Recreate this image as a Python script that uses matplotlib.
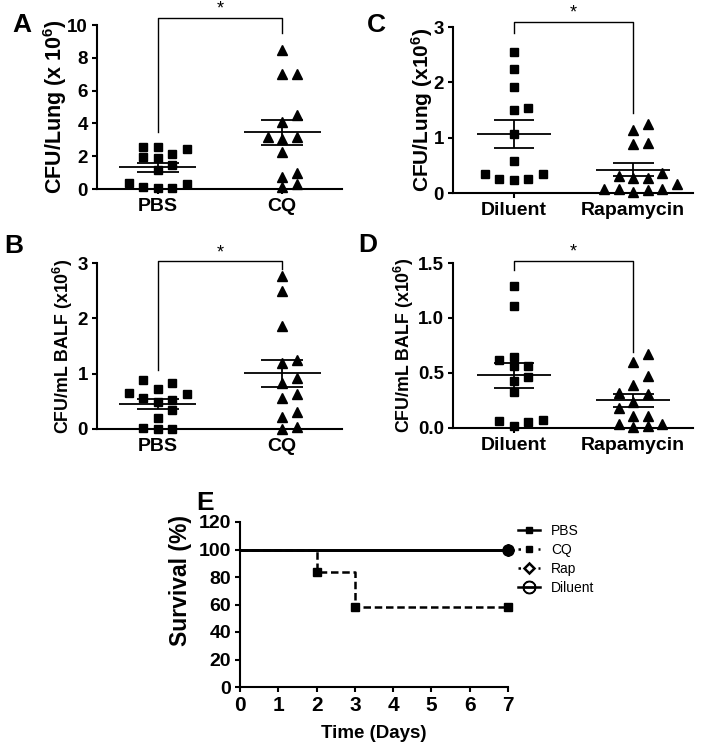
import numpy as np
import matplotlib
matplotlib.use('Agg')
import matplotlib.pyplot as plt
from matplotlib.lines import Line2D

plt.rcParams['font.family'] = ['Liberation Sans', 'DejaVu Sans']
plt.rcParams['font.weight'] = 'bold'
plt.rcParams['mathtext.fontset'] = 'custom'
plt.rcParams['mathtext.rm'] = 'Liberation Sans:bold'
plt.rcParams['mathtext.it'] = 'Liberation Sans:bold'
plt.rcParams['mathtext.bf'] = 'Liberation Sans:bold'

# ---------------- data ----------------
a_groups = ['PBS', 'CQ']
a_pbs = [2.58, 2.58, 2.42, 2.13, 1.97, 1.87, 1.46, 1.16, 0.39, 0.28, 0.14, 0.04, 0.04]
a_cq = [8.48, 7.01, 7.01, 4.51, 4.10, 3.20, 3.15, 3.05, 2.28, 0.96, 0.75, 0.28, 0.14]
a_yticks = [0, 2, 4, 6, 8, 10]

b_groups = ['PBS', 'CQ']
b_pbs = [0.89, 0.83, 0.72, 0.65, 0.63, 0.56, 0.53, 0.48, 0.34, 0.19, 0.01, 0.00, 0.00]
b_cq = [2.76, 2.49, 1.86, 1.25, 1.20, 0.92, 0.83, 0.63, 0.56, 0.30, 0.22, 0.04, 0.00]
b_yticks = [0, 1, 2, 3]

c_groups = ['Diluent', 'Rapamycin']
c_dil = [2.55, 2.24, 1.91, 1.53, 1.50, 1.07, 0.57, 0.34, 0.34, 0.26, 0.25, 0.23]
c_rap = [1.25, 1.13, 0.90, 0.88, 0.37, 0.30, 0.28, 0.28, 0.17, 0.08, 0.08, 0.08, 0.05, 0.02]
c_yticks = [0, 1, 2, 3]

d_groups = ['Diluent', 'Rapamycin']
d_dil = [1.29, 1.11, 0.65, 0.62, 0.56, 0.56, 0.46, 0.43, 0.33, 0.07, 0.06, 0.05, 0.02]
d_rap = [0.67, 0.60, 0.47, 0.39, 0.32, 0.31, 0.24, 0.18, 0.11, 0.11, 0.04, 0.04, 0.02, 0.01]
d_yticks = [0.0, 0.5, 1.0, 1.5]

surv_days = [0, 2, 3, 7]
surv_pbs = [100, 100, 100, 100]
surv_cq = [100, 83.3, 58.3, 58.3]
surv_rap = [100, 100, 100, 100]
surv_dil = [100, 100, 100, 100]
e_xticks = [0, 1, 2, 3, 4, 5, 6, 7]
e_yticks = [0, 20, 40, 60, 80, 100, 120]

# ---------------- layout ----------------
W, H = 706, 748
fig = plt.figure(figsize=(W / 100, H / 100), dpi=100)


def add_ax(l, t, r, b):
    return fig.add_axes([l / W, 1 - b / H, (r - l) / W, (b - t) / H])


def style(ax, lw=1.5):
    for s in ['top', 'right']:
        ax.spines[s].set_visible(False)
    for s in ['left', 'bottom']:
        ax.spines[s].set_linewidth(lw)
    ax.tick_params(width=lw, length=3.5, direction='out')


def swarm(ax, cx, vals, marker, ms):
    vals = np.asarray(vals, float)
    tr = ax.transData
    y0 = tr.transform((0, 0))[1]
    ppu_y = tr.transform((0, 1))[1] - y0
    ppu_x = tr.transform((1, 0))[0] - tr.transform((0, 0))[0]
    step = 14.5
    order = np.argsort(vals)
    placed = []
    xs = np.zeros(len(vals))
    cands = [0]
    for j in range(1, 10):
        cands += [j, -j]
    for i in order:
        yp = vals[i] * ppu_y
        for c in cands:
            xp = c * step
            ok = all(not (abs(xp - px) < step * 0.9 and abs(yp - py) < 9.5) for px, py in placed)
            if ok:
                break
        placed.append((xp, yp))
        xs[i] = cx + xp / ppu_x
    ax.plot(xs, vals, linestyle='none', marker=marker, ms=ms, color='black', clip_on=False, zorder=3)
    m = vals.mean()
    sem = vals.std(ddof=1) / np.sqrt(len(vals))
    ax.hlines(m, cx - 0.31, cx + 0.31, color='black', lw=1.3, zorder=4)
    ax.hlines([m - sem, m + sem], cx - 0.17, cx + 0.17, color='black', lw=1.3, zorder=4)
    ax.vlines(cx, m - sem, m + sem, color='black', lw=1.3, zorder=4)


def dot_panel(box, groups, v1, v2, yticks, ylabel, ylab_size, xlim, bracket, letter, letter_xy, ylab_px):
    ax = add_ax(*box)
    style(ax)
    ax.set_xlim(*xlim)
    ax.set_ylim(yticks[0], yticks[-1])
    ax.set_yticks(yticks)
    ax.set_xticks([0, 1])
    ax.set_xticklabels(groups, fontsize=14, fontweight='bold')
    ax.tick_params(axis='y', labelsize=13.5, pad=3)
    ax.tick_params(axis='x', pad=3)
    swarm(ax, 0, v1, 's', 5.8)
    swarm(ax, 1, v2, '^', 6.8)
    by, l_end, r_end = bracket
    ax.plot([0, 0, 1, 1], [l_end, by, by, r_end], color='black', lw=1.0, clip_on=False)
    ax.annotate('*', xy=(0.5, by), xytext=(0, 3), textcoords='offset points',
                ha='center', va='baseline', fontsize=13, fontweight='normal',
                annotation_clip=False)
    ax.set_ylabel(ylabel, fontsize=ylab_size, fontweight='bold')
    ax.yaxis.set_label_coords((ylab_px - box[0]) / (box[2] - box[0]), 0.5)
    ax.yaxis.label.set_va('center')
    fig.text(letter_xy[0] / W, 1 - letter_xy[1] / H, letter, fontsize=19, fontweight='bold',
             ha='center', va='center')
    return ax


dot_panel((97, 25, 342, 189), a_groups, a_pbs, a_cq, a_yticks, 'CFU/Lung (x 10$^{6}$)', 15.5,
          (-0.49, 1.48), (10.45, 3.5, 9.5), 'A', (22, 25), 55)
dot_panel((97, 263, 342, 429), b_groups, b_pbs, b_cq, b_yticks, 'CFU/mL BALF (x10$^{6}$)', 12.8,
          (-0.49, 1.48), (3.03, 1.07, 2.9), 'B', (14, 246), 63)
dot_panel((453, 27, 693, 193), c_groups, c_dil, c_rap, c_yticks, 'CFU/Lung (x10$^{6}$)', 15,
          (-0.51, 1.50), (3.09, 2.89, 1.44), 'C', (376, 25), 422)
dot_panel((453, 263, 693, 428), d_groups, d_dil, d_rap, d_yticks, 'CFU/mL BALF (x10$^{6}$)', 12.8,
          (-0.51, 1.50), (1.52, 1.44, 0.69), 'D', (368, 245), 404)

# ---------------- survival panel ----------------
box = (240, 522, 508, 687)
ax = add_ax(*box)
style(ax)
ax.set_xlim(0, 7)
ax.set_ylim(0, 120)
ax.set_xticks(e_xticks)
ax.set_yticks(e_yticks)
ax.tick_params(axis='x', labelsize=15, pad=3)
ax.tick_params(axis='y', labelsize=14, pad=3)
ax.step(surv_days, surv_pbs, where='post', color='black', lw=1.8, clip_on=False)
ax.step(surv_days, surv_rap, where='post', color='black', lw=1.8, clip_on=False)
ax.step(surv_days, surv_dil, where='post', color='black', lw=1.8, clip_on=False)
ax.step(surv_days, surv_cq, where='post', color='black', lw=1.8, linestyle=(0, (3, 1.5)), clip_on=False)
ax.plot(surv_days[1:], surv_cq[1:], 's', color='black', ms=6, linestyle='none', clip_on=False, zorder=4)
ax.plot(surv_days[-1:], surv_pbs[-1:], 's', color='black', ms=6, clip_on=False, zorder=4)
ax.plot(surv_days[-1:], surv_rap[-1:], 'D', color='black', ms=6, clip_on=False, zorder=4)
ax.plot(surv_days[-1:], surv_dil[-1:], 'o', color='black', ms=8, clip_on=False, zorder=5)
ax.set_xlabel('Time (Days)', fontsize=13.5, fontweight='bold')
ax.xaxis.set_label_coords(0.5, 1 - (733 - box[1]) / (box[3] - box[1]))
ax.xaxis.label.set_va('center')
ax.set_ylabel('Survival (%)', fontsize=16.5, fontweight='bold')
ax.yaxis.set_label_coords((180 - box[0]) / (box[2] - box[0]), (box[3] - 581) / (box[3] - box[1]))
ax.yaxis.label.set_va('center')
fig.text(205 / W, 1 - 503 / H, 'E', fontsize=19, fontweight='bold', ha='center', va='center')

handles = [
    Line2D([], [], color='black', lw=1.8, marker='s', ms=5),
    Line2D([], [], color='black', lw=1.8, linestyle=(0, (1, 3)), marker='s', ms=5),
    Line2D([], [], color='black', lw=1.8, linestyle=(0, (1, 3)), marker='D', ms=5,
           markerfacecolor='white', markeredgewidth=1.8),
    Line2D([], [], color='black', lw=1.8, marker='$\\ominus$', ms=9),
]
ax.legend(handles, ['PBS', 'CQ', 'Rap', 'Diluent'], loc='upper left',
          bbox_to_anchor=(518 / W, 1 - 524 / H), bbox_transform=fig.transFigure,
          frameon=False, prop={'size': 10, 'weight': 'normal'}, handlelength=1.6,
          handletextpad=0.8, labelspacing=0.35, borderpad=0, borderaxespad=0)

fig.savefig('out.png', dpi=100)
